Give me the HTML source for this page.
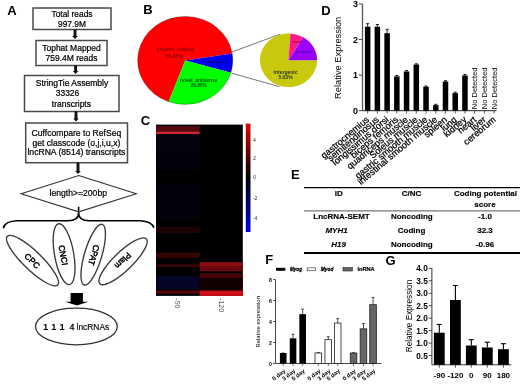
<!DOCTYPE html>
<html><head><meta charset="utf-8"><style>
html,body{margin:0;padding:0;background:#fff;width:520px;height:385px;overflow:hidden}
svg{display:block;filter:blur(0.35px)}
text{font-family:"Liberation Sans",sans-serif}
</style></head><body>
<svg width="520" height="385" viewBox="0 0 520 385">
<text x="7.20" y="14.60" font-size="13" text-anchor="start" font-weight="bold" font-style="normal" fill="#000" >A</text>
<rect x="33" y="8" width="78" height="21.5" fill="#fff" stroke="#4a4a4a" stroke-width="1.5"/>
<text x="72.00" y="16.80" font-size="8.4" text-anchor="middle" font-weight="normal" font-style="normal" fill="#000" stroke="#000" stroke-width="0.22" >Total reads</text>
<text x="72.00" y="26.80" font-size="8.4" text-anchor="middle" font-weight="normal" font-style="normal" fill="#000" stroke="#000" stroke-width="0.22" >997.9M</text>
<line x1="75" y1="29.5" x2="75" y2="36.5" stroke="#111" stroke-width="2.9"/>
<polygon points="72.2,35.9 77.8,35.9 75,39.0" fill="#111"/>
<rect x="36" y="40.5" width="71" height="25" fill="#fff" stroke="#4a4a4a" stroke-width="1.5"/>
<text x="71.50" y="51.00" font-size="8.5" text-anchor="middle" font-weight="normal" font-style="normal" fill="#000" stroke="#000" stroke-width="0.22" >Tophat Mapped</text>
<text x="71.50" y="61.30" font-size="8.5" text-anchor="middle" font-weight="normal" font-style="normal" fill="#000" stroke="#000" stroke-width="0.22" >759.4M reads</text>
<line x1="75.6" y1="65.6" x2="75.6" y2="71.5" stroke="#111" stroke-width="2.9"/>
<polygon points="72.8,70.9 78.39999999999999,70.9 75.6,74.0" fill="#111"/>
<rect x="24.5" y="75.5" width="94.5" height="36" fill="#fff" stroke="#4a4a4a" stroke-width="1.5"/>
<text x="72.00" y="86.00" font-size="8.5" text-anchor="middle" font-weight="normal" font-style="normal" fill="#000" stroke="#000" stroke-width="0.22" >StringTie Assembly</text>
<text x="55.70" y="96.40" font-size="8.5" text-anchor="start" font-weight="normal" font-style="normal" fill="#000" stroke="#000" stroke-width="0.22" >33326</text>
<text x="71.40" y="106.70" font-size="8.5" text-anchor="middle" font-weight="normal" font-style="normal" fill="#000" stroke="#000" stroke-width="0.22" >transcripts</text>
<line x1="76" y1="111.3" x2="76" y2="119" stroke="#111" stroke-width="2.9"/>
<polygon points="73.2,118.4 78.8,118.4 76,121.5" fill="#111"/>
<rect x="25.7" y="123" width="101.8" height="39.7" fill="#fff" stroke="#4a4a4a" stroke-width="1.5"/>
<text x="76.40" y="136.30" font-size="8.6" text-anchor="middle" font-weight="normal" font-style="normal" fill="#000" stroke="#000" stroke-width="0.22" >Cuffcompare to RefSeq</text>
<text x="76.40" y="145.80" font-size="8.6" text-anchor="middle" font-weight="normal" font-style="normal" fill="#000" stroke="#000" stroke-width="0.22" >get classcode (o,j,i,u,x)</text>
<text x="76.40" y="155.30" font-size="8.6" text-anchor="middle" font-weight="normal" font-style="normal" fill="#000" stroke="#000" stroke-width="0.22" >lncRNA (8514) transcripts</text>
<line x1="78" y1="162.7" x2="78" y2="171.5" stroke="#111" stroke-width="2.9"/>
<polygon points="75.2,170.9 80.8,170.9 78,174.0" fill="#111"/>
<polygon points="78.7,175.5 136.3,193.8 78.7,211.8 21.2,193.8" fill="none" stroke="#333" stroke-width="1.1"/>
<text x="78.30" y="196.20" font-size="8.6" text-anchor="middle" font-weight="normal" font-style="normal" fill="#000" stroke="#000" stroke-width="0.22" >length&gt;=200bp</text>
<path d="M3.2,228.2 Q5,221 17,220.7 L68,220.7 Q78.6,220.7 78.6,213 L78.6,206.8 M78.6,213 Q78.6,220.7 89,220.7 L140.5,220.7 Q152,221.5 153.9,227.7" fill="none" stroke="#000" stroke-width="1.6"/>
<ellipse cx="32.5" cy="260.6" rx="35" ry="9.3" transform="rotate(44 32.5 260.6)" fill="#fff" stroke="#3a3a3a" stroke-width="1.35"/>
<ellipse cx="64.1" cy="254.2" rx="9.6" ry="30.9" transform="rotate(-10.2 64.1 254.2)" fill="#fff" stroke="#3a3a3a" stroke-width="1.35"/>
<ellipse cx="93.2" cy="254.7" rx="8.7" ry="31.6" transform="rotate(16.5 93.2 254.7)" fill="#fff" stroke="#3a3a3a" stroke-width="1.35"/>
<ellipse cx="123.1" cy="261.3" rx="32.3" ry="9.3" transform="rotate(-44 123.1 261.3)" fill="#fff" stroke="#3a3a3a" stroke-width="1.35"/>
<text x="0" y="0" font-size="8.4" text-anchor="middle" dominant-baseline="central" font-weight="normal" stroke="#000" stroke-width="0.45" transform="translate(32.3 260.8) rotate(44)">CPC</text>
<text x="0" y="0" font-size="8.4" text-anchor="middle" dominant-baseline="central" font-weight="normal" stroke="#000" stroke-width="0.45" transform="translate(63.3 255.2) rotate(80)">CNCI</text>
<text x="0" y="0" font-size="8.4" text-anchor="middle" dominant-baseline="central" font-weight="normal" stroke="#000" stroke-width="0.45" transform="translate(94 255.2) rotate(106.5)">CPAT</text>
<text x="0" y="0" font-size="8.4" text-anchor="middle" dominant-baseline="central" font-weight="normal" stroke="#000" stroke-width="0.45" transform="translate(123 260.6) rotate(136)">Plam</text>
<polygon points="70.6,293 82.9,293 82.9,301.8 88.3,301.8 77,305.5 65,301.8 70.6,301.8" fill="#000"/>
<ellipse cx="76.4" cy="326.5" rx="40.9" ry="18.3" fill="#fff" stroke="#333" stroke-width="1.3"/>
<text x="45.60" y="330.10" font-size="9.4" text-anchor="middle" font-weight="bold" font-style="normal" fill="#000" >1</text>
<text x="53.80" y="330.10" font-size="9.4" text-anchor="middle" font-weight="bold" font-style="normal" fill="#000" >1</text>
<text x="62.00" y="330.10" font-size="9.4" text-anchor="middle" font-weight="bold" font-style="normal" fill="#000" >1</text>
<text x="71.90" y="330.10" font-size="9" text-anchor="middle" font-weight="normal" font-style="normal" fill="#000" stroke="#000" stroke-width="0.3" >4</text>
<text x="76.60" y="330.10" font-size="8.4" text-anchor="start" font-weight="normal" font-style="normal" fill="#000" stroke="#000" stroke-width="0.15" >lncRNAs</text>
<text x="143.30" y="14.40" font-size="13" text-anchor="start" font-weight="bold" font-style="normal" fill="#000" >B</text>
<path d="M185.2,60.4 L168.69,101.67 A47.6,44 0 1 1 232.23,53.59 Z" fill="#ff0000"/>
<path d="M185.2,60.4 L232.23,53.59 A47.6,44 0 0 1 230.86,72.82 Z" fill="#0000ee"/>
<path d="M185.2,60.4 L230.86,72.82 A47.6,44 0 0 1 168.69,101.67 Z" fill="#00ff00"/>
<ellipse cx="185.2" cy="60.4" rx="47.6" ry="44" fill="none" stroke="#000" stroke-opacity="0.35" stroke-width="0.7"/>
<line x1="232.3" y1="51.9" x2="280.4" y2="34.1" stroke="#777" stroke-width="1"/>
<line x1="231.4" y1="73.1" x2="279.5" y2="86.7" stroke="#777" stroke-width="1"/>
<path d="M288.5,60.3 L317.10,60.30 A28.6,26.8 0 1 1 290.40,33.56 Z" fill="#c8c80c"/>
<path d="M288.5,60.3 L290.40,33.56 A28.6,26.8 0 0 1 303.23,37.33 Z" fill="#ff1a8c"/>
<path d="M288.5,60.3 L303.23,37.33 A28.6,26.8 0 0 1 317.10,60.30 Z" fill="#9a00ff"/>
<text x="175.30" y="51.20" font-size="5.2" text-anchor="middle" font-weight="bold" font-style="normal" fill="#800" >protein_coding</text>
<text x="174.30" y="58.00" font-size="5.2" text-anchor="middle" font-weight="bold" font-style="normal" fill="#800" >65.88%</text>
<text x="198.70" y="82.00" font-size="4.8" text-anchor="middle" font-weight="bold" font-style="normal" fill="#050" >novel_antisense</text>
<text x="198.70" y="87.30" font-size="4.8" text-anchor="middle" font-weight="bold" font-style="normal" fill="#050" >26.80%</text>
<text x="217.00" y="62.50" font-size="4" text-anchor="middle" font-weight="bold" font-style="normal" fill="#00005a" >intergenic</text>
<text x="285.50" y="73.50" font-size="5" text-anchor="middle" font-weight="bold" font-style="normal" fill="#333" >intergenic</text>
<text x="285.50" y="78.80" font-size="5" text-anchor="middle" font-weight="bold" font-style="normal" fill="#333" >5.63%</text>
<text x="297.00" y="43.00" font-size="3.5" text-anchor="middle" font-weight="bold" font-style="normal" fill="#900040" >sense</text>
<text x="304.00" y="53.00" font-size="3.5" text-anchor="middle" font-weight="bold" font-style="normal" fill="#500090" >antisense</text>
<text x="140.80" y="124.70" font-size="13" text-anchor="start" font-weight="bold" font-style="normal" fill="#000" >C</text>
<rect x="156" y="124.6" width="86.80000000000001" height="171.29999999999998" fill="#000"/>
<rect x="156" y="126.2" width="43.599999999999994" height="5.3999999999999915" fill="#560a0e"/>
<rect x="156" y="131.6" width="43.599999999999994" height="2.5" fill="#c82a34"/>
<rect x="156" y="134.1" width="43.599999999999994" height="15.900000000000006" fill="#04040f"/>
<rect x="156" y="150" width="43.599999999999994" height="20" fill="#02020a"/>
<rect x="156" y="185" width="43.599999999999994" height="35" fill="#02020b"/>
<rect x="156" y="226.8" width="43.599999999999994" height="6.199999999999989" fill="#1c0202"/>
<rect x="156" y="252.6" width="43.599999999999994" height="5.400000000000006" fill="#320404"/>
<rect x="156" y="264.3" width="43.599999999999994" height="2.6999999999999886" fill="#3a0404"/>
<rect x="156" y="276" width="43.599999999999994" height="13" fill="#05052a"/>
<rect x="156" y="290.5" width="43.599999999999994" height="3.1000000000000227" fill="#5a0608"/>
<rect x="199.6" y="262.2" width="43.20000000000002" height="3.8000000000000114" fill="#8c0c10"/>
<rect x="199.6" y="266" width="43.20000000000002" height="5.199999999999989" fill="#6a080c"/>
<rect x="199.6" y="273.2" width="43.20000000000002" height="4.800000000000011" fill="#440606"/>
<rect x="199.6" y="278" width="43.20000000000002" height="12.5" fill="#120000"/>
<rect x="199.6" y="290.5" width="43.20000000000002" height="5.399999999999977" fill="#cc0c16"/>
<defs><linearGradient id="cb" x1="0" y1="0" x2="0" y2="1"><stop offset="0" stop-color="#e60000"/><stop offset="0.5" stop-color="#000"/><stop offset="1" stop-color="#0000e6"/></linearGradient></defs>
<rect x="245.8" y="123.6" width="4.7" height="108.4" fill="url(#cb)"/>
<text x="253.20" y="141.50" font-size="4.6" text-anchor="start" font-weight="normal" font-style="normal" fill="#222" >4</text>
<text x="253.20" y="160.20" font-size="4.6" text-anchor="start" font-weight="normal" font-style="normal" fill="#222" >2</text>
<text x="253.20" y="179.00" font-size="4.6" text-anchor="start" font-weight="normal" font-style="normal" fill="#222" >0</text>
<text x="253.20" y="200.20" font-size="4.6" text-anchor="start" font-weight="normal" font-style="normal" fill="#222" >-2</text>
<text x="253.20" y="220.20" font-size="4.6" text-anchor="start" font-weight="normal" font-style="normal" fill="#222" >-4</text>
<text x="0.00" y="0.00" font-size="7" text-anchor="middle" font-weight="normal" font-style="normal" fill="#555" transform="translate(177.8 303.4) rotate(90)" dominant-baseline="central">-90</text>
<text x="0.00" y="0.00" font-size="7" text-anchor="middle" font-weight="normal" font-style="normal" fill="#555" transform="translate(221.5 305.1) rotate(90)" dominant-baseline="central">-120</text>
<text x="321.30" y="14.80" font-size="13" text-anchor="start" font-weight="bold" font-style="normal" fill="#000" >D</text>
<line x1="362.5" y1="4.0" x2="362.5" y2="110.7" stroke="#555" stroke-width="1.3"/>
<line x1="362.5" y1="110.7" x2="496.5" y2="110.7" stroke="#222" stroke-width="1"/>
<line x1="358.7" y1="110.70" x2="362.5" y2="110.70" stroke="#444" stroke-width="1"/>
<text x="357.90" y="113.90" font-size="8.9" text-anchor="end" font-weight="bold" font-style="normal" fill="#000" >0</text>
<line x1="358.7" y1="75.13" x2="362.5" y2="75.13" stroke="#444" stroke-width="1"/>
<text x="357.90" y="78.33" font-size="8.9" text-anchor="end" font-weight="bold" font-style="normal" fill="#000" >1</text>
<line x1="358.7" y1="39.56" x2="362.5" y2="39.56" stroke="#444" stroke-width="1"/>
<text x="357.90" y="42.76" font-size="8.9" text-anchor="end" font-weight="bold" font-style="normal" fill="#000" >2</text>
<line x1="358.7" y1="3.99" x2="362.5" y2="3.99" stroke="#444" stroke-width="1"/>
<text x="357.90" y="7.19" font-size="8.9" text-anchor="end" font-weight="bold" font-style="normal" fill="#000" >3</text>
<line x1="367.65" y1="110.7" x2="367.65" y2="113.5" stroke="#333" stroke-width="0.8"/>
<rect x="364.90" y="26.7" width="5.5" height="84.00" fill="#000"/>
<line x1="367.65" y1="23.7" x2="367.65" y2="26.7" stroke="#000" stroke-width="0.9"/>
<line x1="366.15" y1="23.7" x2="369.15" y2="23.7" stroke="#000" stroke-width="0.9"/>
<line x1="377.38" y1="110.7" x2="377.38" y2="113.5" stroke="#333" stroke-width="0.8"/>
<rect x="374.63" y="26.7" width="5.5" height="84.00" fill="#000"/>
<line x1="377.38" y1="24.5" x2="377.38" y2="26.7" stroke="#000" stroke-width="0.9"/>
<line x1="375.88" y1="24.5" x2="378.88" y2="24.5" stroke="#000" stroke-width="0.9"/>
<line x1="387.11" y1="110.7" x2="387.11" y2="113.5" stroke="#333" stroke-width="0.8"/>
<rect x="384.36" y="33.2" width="5.5" height="77.50" fill="#000"/>
<line x1="387.11" y1="29.3" x2="387.11" y2="33.2" stroke="#000" stroke-width="0.9"/>
<line x1="385.61" y1="29.3" x2="388.61" y2="29.3" stroke="#000" stroke-width="0.9"/>
<line x1="396.84" y1="110.7" x2="396.84" y2="113.5" stroke="#333" stroke-width="0.8"/>
<rect x="394.09" y="76.4" width="5.5" height="34.30" fill="#000"/>
<line x1="396.84" y1="75.5" x2="396.84" y2="76.4" stroke="#000" stroke-width="0.9"/>
<line x1="395.34" y1="75.5" x2="398.34" y2="75.5" stroke="#000" stroke-width="0.9"/>
<line x1="406.57" y1="110.7" x2="406.57" y2="113.5" stroke="#333" stroke-width="0.8"/>
<rect x="403.82" y="71.5" width="5.5" height="39.20" fill="#000"/>
<line x1="406.57" y1="70.6" x2="406.57" y2="71.5" stroke="#000" stroke-width="0.9"/>
<line x1="405.07" y1="70.6" x2="408.07" y2="70.6" stroke="#000" stroke-width="0.9"/>
<line x1="416.30" y1="110.7" x2="416.30" y2="113.5" stroke="#333" stroke-width="0.8"/>
<rect x="413.55" y="64.5" width="5.5" height="46.20" fill="#000"/>
<line x1="416.30" y1="63.8" x2="416.30" y2="64.5" stroke="#000" stroke-width="0.9"/>
<line x1="414.80" y1="63.8" x2="417.80" y2="63.8" stroke="#000" stroke-width="0.9"/>
<line x1="426.03" y1="110.7" x2="426.03" y2="113.5" stroke="#333" stroke-width="0.8"/>
<rect x="423.28" y="86.7" width="5.5" height="24.00" fill="#000"/>
<line x1="426.03" y1="86" x2="426.03" y2="86.7" stroke="#000" stroke-width="0.9"/>
<line x1="424.53" y1="86" x2="427.53" y2="86" stroke="#000" stroke-width="0.9"/>
<line x1="435.76" y1="110.7" x2="435.76" y2="113.5" stroke="#333" stroke-width="0.8"/>
<rect x="433.01" y="105.1" width="5.5" height="5.60" fill="#000"/>
<line x1="435.76" y1="104.3" x2="435.76" y2="105.1" stroke="#000" stroke-width="0.9"/>
<line x1="434.26" y1="104.3" x2="437.26" y2="104.3" stroke="#000" stroke-width="0.9"/>
<line x1="445.49" y1="110.7" x2="445.49" y2="113.5" stroke="#333" stroke-width="0.8"/>
<rect x="442.74" y="81.5" width="5.5" height="29.20" fill="#000"/>
<line x1="445.49" y1="80.7" x2="445.49" y2="81.5" stroke="#000" stroke-width="0.9"/>
<line x1="443.99" y1="80.7" x2="446.99" y2="80.7" stroke="#000" stroke-width="0.9"/>
<line x1="455.22" y1="110.7" x2="455.22" y2="113.5" stroke="#333" stroke-width="0.8"/>
<rect x="452.47" y="93.1" width="5.5" height="17.60" fill="#000"/>
<line x1="455.22" y1="92.2" x2="455.22" y2="93.1" stroke="#000" stroke-width="0.9"/>
<line x1="453.72" y1="92.2" x2="456.72" y2="92.2" stroke="#000" stroke-width="0.9"/>
<line x1="464.95" y1="110.7" x2="464.95" y2="113.5" stroke="#333" stroke-width="0.8"/>
<rect x="462.20" y="75.5" width="5.5" height="35.20" fill="#000"/>
<line x1="464.95" y1="74.5" x2="464.95" y2="75.5" stroke="#000" stroke-width="0.9"/>
<line x1="463.45" y1="74.5" x2="466.45" y2="74.5" stroke="#000" stroke-width="0.9"/>
<line x1="474.68" y1="110.7" x2="474.68" y2="113.5" stroke="#333" stroke-width="0.8"/>
<text x="0.00" y="0.00" font-size="7.5" text-anchor="start" font-weight="normal" font-style="normal" fill="#000" transform="translate(477.30 109.2) rotate(-90)">No Detected</text>
<line x1="484.41" y1="110.7" x2="484.41" y2="113.5" stroke="#333" stroke-width="0.8"/>
<text x="0.00" y="0.00" font-size="7.5" text-anchor="start" font-weight="normal" font-style="normal" fill="#000" transform="translate(487.03 109.2) rotate(-90)">No Detected</text>
<line x1="494.14" y1="110.7" x2="494.14" y2="113.5" stroke="#333" stroke-width="0.8"/>
<text x="0.00" y="0.00" font-size="7.5" text-anchor="start" font-weight="normal" font-style="normal" fill="#000" transform="translate(496.76 109.2) rotate(-90)">No Detected</text>
<text x="0.00" y="0.00" font-size="9.2" text-anchor="end" font-weight="normal" font-style="normal" fill="#000" stroke="#000" stroke-width="0.25" transform="translate(369.85 120.6) rotate(-40)">gastrocnemius</text>
<text x="0.00" y="0.00" font-size="9.2" text-anchor="end" font-weight="normal" font-style="normal" fill="#000" stroke="#000" stroke-width="0.25" transform="translate(379.58 120.6) rotate(-40)">semitendinosus</text>
<text x="0.00" y="0.00" font-size="9.2" text-anchor="end" font-weight="normal" font-style="normal" fill="#000" stroke="#000" stroke-width="0.25" transform="translate(389.31 120.6) rotate(-40)">longissimus dorsi</text>
<text x="0.00" y="0.00" font-size="9.2" text-anchor="end" font-weight="normal" font-style="normal" fill="#000" stroke="#000" stroke-width="0.25" transform="translate(399.04 120.6) rotate(-40)">biceps femoris</text>
<text x="0.00" y="0.00" font-size="9.2" text-anchor="end" font-weight="normal" font-style="normal" fill="#000" stroke="#000" stroke-width="0.25" transform="translate(408.77 120.6) rotate(-40)">quadriceps muscle</text>
<text x="0.00" y="0.00" font-size="9.2" text-anchor="end" font-weight="normal" font-style="normal" fill="#000" stroke="#000" stroke-width="0.25" transform="translate(418.50 120.6) rotate(-40)">Soleus muscle</text>
<text x="0.00" y="0.00" font-size="9.2" text-anchor="end" font-weight="normal" font-style="normal" fill="#000" stroke="#000" stroke-width="0.25" transform="translate(428.23 120.6) rotate(-40)">gastric smooth muscle</text>
<text x="0.00" y="0.00" font-size="9.2" text-anchor="end" font-weight="normal" font-style="normal" fill="#000" stroke="#000" stroke-width="0.25" transform="translate(437.96 120.6) rotate(-40)">intestinal smooth muscle</text>
<text x="0.00" y="0.00" font-size="9.2" text-anchor="end" font-weight="normal" font-style="normal" fill="#000" stroke="#000" stroke-width="0.25" transform="translate(447.69 120.6) rotate(-40)">spleen</text>
<text x="0.00" y="0.00" font-size="9.2" text-anchor="end" font-weight="normal" font-style="normal" fill="#000" stroke="#000" stroke-width="0.25" transform="translate(457.42 120.6) rotate(-40)">lung</text>
<text x="0.00" y="0.00" font-size="9.2" text-anchor="end" font-weight="normal" font-style="normal" fill="#000" stroke="#000" stroke-width="0.25" transform="translate(467.15 120.6) rotate(-40)">kidney</text>
<text x="0.00" y="0.00" font-size="9.2" text-anchor="end" font-weight="normal" font-style="normal" fill="#000" stroke="#000" stroke-width="0.25" transform="translate(476.88 120.6) rotate(-40)">heart</text>
<text x="0.00" y="0.00" font-size="9.2" text-anchor="end" font-weight="normal" font-style="normal" fill="#000" stroke="#000" stroke-width="0.25" transform="translate(486.61 120.6) rotate(-40)">liver</text>
<text x="0.00" y="0.00" font-size="9.2" text-anchor="end" font-weight="normal" font-style="normal" fill="#000" stroke="#000" stroke-width="0.25" transform="translate(496.34 120.6) rotate(-40)">cerebrum</text>
<text x="0.00" y="0.00" font-size="9.3" text-anchor="middle" font-weight="normal" font-style="normal" fill="#000" transform="translate(341.3 57.8) rotate(-90)">Relative Expression</text>
<text x="291.00" y="178.80" font-size="13" text-anchor="start" font-weight="bold" font-style="normal" fill="#000" >E</text>
<line x1="304" y1="187.6" x2="520" y2="187.6" stroke="#000" stroke-width="1.3"/>
<line x1="304" y1="210.9" x2="520" y2="210.9" stroke="#777" stroke-width="1.2"/>
<line x1="304" y1="253" x2="520" y2="253" stroke="#000" stroke-width="1.8"/>
<text x="338.80" y="196.40" font-size="8.0" text-anchor="middle" font-weight="bold" font-style="normal" fill="#000" stroke="#000" stroke-width="0.15" >ID</text>
<text x="411.50" y="196.40" font-size="8.0" text-anchor="middle" font-weight="bold" font-style="normal" fill="#000" stroke="#000" stroke-width="0.15" >C/NC</text>
<text x="485.50" y="196.40" font-size="8.0" text-anchor="middle" font-weight="bold" font-style="normal" fill="#000" stroke="#000" stroke-width="0.15" >Coding potential</text>
<text x="485.00" y="207.30" font-size="8.0" text-anchor="middle" font-weight="bold" font-style="normal" fill="#000" stroke="#000" stroke-width="0.15" >score</text>
<text x="341.50" y="219.40" font-size="8.0" text-anchor="middle" font-weight="bold" font-style="normal" fill="#000" stroke="#000" stroke-width="0.15" >LncRNA-SEMT</text>
<text x="336.50" y="233.00" font-size="8.0" text-anchor="middle" font-weight="bold" font-style="italic" fill="#000" stroke="#000" stroke-width="0.15" >MYH1</text>
<text x="338.50" y="247.00" font-size="8.0" text-anchor="middle" font-weight="bold" font-style="italic" fill="#000" stroke="#000" stroke-width="0.15" >H19</text>
<text x="411.80" y="219.40" font-size="8.0" text-anchor="middle" font-weight="bold" font-style="normal" fill="#000" stroke="#000" stroke-width="0.15" >Noncoding</text>
<text x="411.50" y="232.90" font-size="8.0" text-anchor="middle" font-weight="bold" font-style="normal" fill="#000" stroke="#000" stroke-width="0.15" >Coding</text>
<text x="411.80" y="247.20" font-size="8.0" text-anchor="middle" font-weight="bold" font-style="normal" fill="#000" stroke="#000" stroke-width="0.15" >Noncoding</text>
<text x="485.00" y="219.40" font-size="8.0" text-anchor="middle" font-weight="bold" font-style="normal" fill="#000" stroke="#000" stroke-width="0.15" >-1.0</text>
<text x="485.00" y="232.90" font-size="8.0" text-anchor="middle" font-weight="bold" font-style="normal" fill="#000" stroke="#000" stroke-width="0.15" >32.3</text>
<text x="485.00" y="247.20" font-size="8.0" text-anchor="middle" font-weight="bold" font-style="normal" fill="#000" stroke="#000" stroke-width="0.15" >-0.96</text>
<text x="265.30" y="263.80" font-size="13" text-anchor="start" font-weight="bold" font-style="normal" fill="#000" >F</text>
<rect x="276.1" y="267.8" width="9.2" height="3" fill="#000"/>
<text x="290.10" y="271.30" font-size="5.8" text-anchor="start" font-weight="bold" font-style="italic" fill="#000" stroke="#000" stroke-width="0.3" textLength="11.8" lengthAdjust="spacingAndGlyphs">Myog</text>
<rect x="307.2" y="267.9" width="8.2" height="2.8" fill="#fff" stroke="#444" stroke-width="0.7"/>
<text x="320.80" y="271.30" font-size="5.8" text-anchor="start" font-weight="bold" font-style="italic" fill="#000" stroke="#000" stroke-width="0.3" textLength="12.6" lengthAdjust="spacingAndGlyphs">Myod</text>
<rect x="343" y="267.6" width="9.5" height="3.4" fill="#666" stroke="#222" stroke-width="0.6"/>
<text x="357.40" y="271.30" font-size="5.8" text-anchor="start" font-weight="bold" font-style="normal" fill="#000" stroke="#000" stroke-width="0.2" textLength="17.2" lengthAdjust="spacingAndGlyphs">lnRNA</text>
<line x1="275.5" y1="279.5" x2="275.5" y2="363.5" stroke="#333" stroke-width="0.9"/>
<line x1="275.5" y1="363.5" x2="381.3" y2="363.5" stroke="#333" stroke-width="0.9"/>
<line x1="273" y1="363.50" x2="275.5" y2="363.50" stroke="#333" stroke-width="0.8"/>
<text x="271.80" y="365.50" font-size="5.2" text-anchor="end" font-weight="bold" font-style="normal" fill="#000" >0</text>
<line x1="273" y1="342.50" x2="275.5" y2="342.50" stroke="#333" stroke-width="0.8"/>
<text x="271.80" y="344.50" font-size="5.2" text-anchor="end" font-weight="bold" font-style="normal" fill="#000" >2</text>
<line x1="273" y1="321.50" x2="275.5" y2="321.50" stroke="#333" stroke-width="0.8"/>
<text x="271.80" y="323.50" font-size="5.2" text-anchor="end" font-weight="bold" font-style="normal" fill="#000" >4</text>
<line x1="273" y1="300.50" x2="275.5" y2="300.50" stroke="#333" stroke-width="0.8"/>
<text x="271.80" y="302.50" font-size="5.2" text-anchor="end" font-weight="bold" font-style="normal" fill="#000" >6</text>
<line x1="273" y1="279.50" x2="275.5" y2="279.50" stroke="#333" stroke-width="0.8"/>
<text x="271.80" y="281.50" font-size="5.2" text-anchor="end" font-weight="bold" font-style="normal" fill="#000" >8</text>
<text x="0.00" y="0.00" font-size="5.9" text-anchor="middle" font-weight="normal" font-style="normal" fill="#000" transform="translate(259.5 321.8) rotate(-90)">Relative expression</text>
<line x1="283.20" y1="363.5" x2="283.20" y2="366.0" stroke="#333" stroke-width="0.7"/>
<line x1="283.20" y1="353.00" x2="283.20" y2="353.00" stroke="#222" stroke-width="0.8"/>
<line x1="281.70" y1="353.00" x2="284.70" y2="353.00" stroke="#222" stroke-width="0.8"/>
<rect x="279.90" y="353.00" width="6.6" height="10.50" fill="#000" stroke="#222" stroke-width="0"/>
<line x1="293.05" y1="363.5" x2="293.05" y2="366.0" stroke="#333" stroke-width="0.7"/>
<line x1="293.05" y1="334.31" x2="293.05" y2="338.30" stroke="#222" stroke-width="0.8"/>
<line x1="291.55" y1="334.31" x2="294.55" y2="334.31" stroke="#222" stroke-width="0.8"/>
<rect x="289.75" y="338.30" width="6.6" height="25.20" fill="#000" stroke="#222" stroke-width="0"/>
<line x1="302.65" y1="363.5" x2="302.65" y2="366.0" stroke="#333" stroke-width="0.7"/>
<line x1="302.65" y1="309.11" x2="302.65" y2="314.15" stroke="#222" stroke-width="0.8"/>
<line x1="301.15" y1="309.11" x2="304.15" y2="309.11" stroke="#222" stroke-width="0.8"/>
<rect x="299.35" y="314.15" width="6.6" height="49.35" fill="#000" stroke="#222" stroke-width="0"/>
<line x1="318.30" y1="363.5" x2="318.30" y2="366.0" stroke="#333" stroke-width="0.7"/>
<line x1="318.30" y1="352.48" x2="318.30" y2="353.00" stroke="#222" stroke-width="0.8"/>
<line x1="316.80" y1="352.48" x2="319.80" y2="352.48" stroke="#222" stroke-width="0.8"/>
<rect x="315.00" y="353.00" width="6.6" height="10.50" fill="#fff" stroke="#222" stroke-width="0.8"/>
<line x1="328.25" y1="363.5" x2="328.25" y2="366.0" stroke="#333" stroke-width="0.7"/>
<line x1="328.25" y1="336.73" x2="328.25" y2="339.67" stroke="#222" stroke-width="0.8"/>
<line x1="326.75" y1="336.73" x2="329.75" y2="336.73" stroke="#222" stroke-width="0.8"/>
<rect x="324.95" y="339.67" width="6.6" height="23.83" fill="#fff" stroke="#222" stroke-width="0.8"/>
<line x1="337.70" y1="363.5" x2="337.70" y2="366.0" stroke="#333" stroke-width="0.7"/>
<line x1="337.70" y1="318.67" x2="337.70" y2="323.07" stroke="#222" stroke-width="0.8"/>
<line x1="336.20" y1="318.67" x2="339.20" y2="318.67" stroke="#222" stroke-width="0.8"/>
<rect x="334.40" y="323.07" width="6.6" height="40.43" fill="#fff" stroke="#222" stroke-width="0.8"/>
<line x1="353.55" y1="363.5" x2="353.55" y2="366.0" stroke="#333" stroke-width="0.7"/>
<line x1="353.55" y1="352.79" x2="353.55" y2="353.00" stroke="#222" stroke-width="0.8"/>
<line x1="352.05" y1="352.79" x2="355.05" y2="352.79" stroke="#222" stroke-width="0.8"/>
<rect x="350.25" y="353.00" width="6.6" height="10.50" fill="#666" stroke="#222" stroke-width="0.8"/>
<line x1="363.45" y1="363.5" x2="363.45" y2="366.0" stroke="#333" stroke-width="0.7"/>
<line x1="363.45" y1="323.70" x2="363.45" y2="328.85" stroke="#222" stroke-width="0.8"/>
<line x1="361.95" y1="323.70" x2="364.95" y2="323.70" stroke="#222" stroke-width="0.8"/>
<rect x="360.15" y="328.85" width="6.6" height="34.65" fill="#666" stroke="#222" stroke-width="0.8"/>
<line x1="373.05" y1="363.5" x2="373.05" y2="366.0" stroke="#333" stroke-width="0.7"/>
<line x1="373.05" y1="297.35" x2="373.05" y2="304.70" stroke="#222" stroke-width="0.8"/>
<line x1="371.55" y1="297.35" x2="374.55" y2="297.35" stroke="#222" stroke-width="0.8"/>
<rect x="369.75" y="304.70" width="6.6" height="58.80" fill="#666" stroke="#222" stroke-width="0.8"/>
<text x="0.00" y="0.00" font-size="5.9" text-anchor="end" font-weight="bold" font-style="normal" fill="#000" transform="translate(286.00 371.8) rotate(-38)">0 day</text>
<text x="0.00" y="0.00" font-size="5.9" text-anchor="end" font-weight="bold" font-style="normal" fill="#000" transform="translate(295.85 371.8) rotate(-38)">3 day</text>
<text x="0.00" y="0.00" font-size="5.9" text-anchor="end" font-weight="bold" font-style="normal" fill="#000" transform="translate(305.45 371.8) rotate(-38)">5 day</text>
<text x="0.00" y="0.00" font-size="5.9" text-anchor="end" font-weight="bold" font-style="normal" fill="#000" transform="translate(321.10 371.8) rotate(-38)">0 day</text>
<text x="0.00" y="0.00" font-size="5.9" text-anchor="end" font-weight="bold" font-style="normal" fill="#000" transform="translate(331.05 371.8) rotate(-38)">3 day</text>
<text x="0.00" y="0.00" font-size="5.9" text-anchor="end" font-weight="bold" font-style="normal" fill="#000" transform="translate(340.50 371.8) rotate(-38)">5 day</text>
<text x="0.00" y="0.00" font-size="5.9" text-anchor="end" font-weight="bold" font-style="normal" fill="#000" transform="translate(356.35 371.8) rotate(-38)">0 day</text>
<text x="0.00" y="0.00" font-size="5.9" text-anchor="end" font-weight="bold" font-style="normal" fill="#000" transform="translate(366.25 371.8) rotate(-38)">3 day</text>
<text x="0.00" y="0.00" font-size="5.9" text-anchor="end" font-weight="bold" font-style="normal" fill="#000" transform="translate(375.85 371.8) rotate(-38)">5 day</text>
<text x="385.50" y="264.50" font-size="13" text-anchor="start" font-weight="bold" font-style="normal" fill="#000" >G</text>
<line x1="431.9" y1="268.2" x2="431.9" y2="364.8" stroke="#333" stroke-width="1"/>
<line x1="431.9" y1="364.8" x2="511.3" y2="364.8" stroke="#333" stroke-width="1"/>
<line x1="428.7" y1="355.50" x2="431.9" y2="355.50" stroke="#333" stroke-width="0.9"/>
<text x="427.80" y="358.50" font-size="8.3" text-anchor="end" font-weight="bold" font-style="normal" fill="#000" >0.5</text>
<line x1="428.7" y1="343.05" x2="431.9" y2="343.05" stroke="#333" stroke-width="0.9"/>
<text x="427.80" y="346.05" font-size="8.3" text-anchor="end" font-weight="bold" font-style="normal" fill="#000" >1.0</text>
<line x1="428.7" y1="330.60" x2="431.9" y2="330.60" stroke="#333" stroke-width="0.9"/>
<text x="427.80" y="333.60" font-size="8.3" text-anchor="end" font-weight="bold" font-style="normal" fill="#000" >1.5</text>
<line x1="428.7" y1="318.15" x2="431.9" y2="318.15" stroke="#333" stroke-width="0.9"/>
<text x="427.80" y="321.15" font-size="8.3" text-anchor="end" font-weight="bold" font-style="normal" fill="#000" >2.0</text>
<line x1="428.7" y1="305.70" x2="431.9" y2="305.70" stroke="#333" stroke-width="0.9"/>
<text x="427.80" y="308.70" font-size="8.3" text-anchor="end" font-weight="bold" font-style="normal" fill="#000" >2.5</text>
<line x1="428.7" y1="293.25" x2="431.9" y2="293.25" stroke="#333" stroke-width="0.9"/>
<text x="427.80" y="296.25" font-size="8.3" text-anchor="end" font-weight="bold" font-style="normal" fill="#000" >3.0</text>
<line x1="428.7" y1="280.80" x2="431.9" y2="280.80" stroke="#333" stroke-width="0.9"/>
<text x="427.80" y="283.80" font-size="8.3" text-anchor="end" font-weight="bold" font-style="normal" fill="#000" >3.5</text>
<line x1="428.7" y1="268.35" x2="431.9" y2="268.35" stroke="#333" stroke-width="0.9"/>
<text x="427.80" y="271.35" font-size="8.3" text-anchor="end" font-weight="bold" font-style="normal" fill="#000" >4.0</text>
<text x="0.00" y="0.00" font-size="8.2" text-anchor="middle" font-weight="normal" font-style="normal" fill="#000" transform="translate(412 316) rotate(-90)">Relative Expression</text>
<line x1="439.30" y1="364.8" x2="439.30" y2="367.6" stroke="#333" stroke-width="0.9"/>
<line x1="439.30" y1="324.50" x2="439.30" y2="332.70" stroke="#000" stroke-width="1.1"/>
<line x1="436.80" y1="324.50" x2="441.80" y2="324.50" stroke="#000" stroke-width="1.1"/>
<rect x="433.90" y="332.70" width="10.8" height="32.10" fill="#000"/>
<text x="439.30" y="378.00" font-size="8" text-anchor="middle" font-weight="bold" font-style="normal" fill="#000" >-90</text>
<line x1="455.40" y1="364.8" x2="455.40" y2="367.6" stroke="#333" stroke-width="0.9"/>
<line x1="455.40" y1="285.50" x2="455.40" y2="300.00" stroke="#000" stroke-width="1.1"/>
<line x1="452.90" y1="285.50" x2="457.90" y2="285.50" stroke="#000" stroke-width="1.1"/>
<rect x="450.00" y="300.00" width="10.8" height="64.80" fill="#000"/>
<text x="455.40" y="378.00" font-size="8" text-anchor="middle" font-weight="bold" font-style="normal" fill="#000" >-120</text>
<line x1="471.30" y1="364.8" x2="471.30" y2="367.6" stroke="#333" stroke-width="0.9"/>
<line x1="471.30" y1="339.70" x2="471.30" y2="345.50" stroke="#000" stroke-width="1.1"/>
<line x1="468.80" y1="339.70" x2="473.80" y2="339.70" stroke="#000" stroke-width="1.1"/>
<rect x="465.90" y="345.50" width="10.8" height="19.30" fill="#000"/>
<text x="471.30" y="378.00" font-size="8" text-anchor="middle" font-weight="bold" font-style="normal" fill="#000" >0</text>
<line x1="487.30" y1="364.8" x2="487.30" y2="367.6" stroke="#333" stroke-width="0.9"/>
<line x1="487.30" y1="342.20" x2="487.30" y2="347.50" stroke="#000" stroke-width="1.1"/>
<line x1="484.80" y1="342.20" x2="489.80" y2="342.20" stroke="#000" stroke-width="1.1"/>
<rect x="481.90" y="347.50" width="10.8" height="17.30" fill="#000"/>
<text x="487.30" y="378.00" font-size="8" text-anchor="middle" font-weight="bold" font-style="normal" fill="#000" >90</text>
<line x1="503.40" y1="364.8" x2="503.40" y2="367.6" stroke="#333" stroke-width="0.9"/>
<line x1="503.40" y1="343.70" x2="503.40" y2="349.20" stroke="#000" stroke-width="1.1"/>
<line x1="500.90" y1="343.70" x2="505.90" y2="343.70" stroke="#000" stroke-width="1.1"/>
<rect x="498.00" y="349.20" width="10.8" height="15.60" fill="#000"/>
<text x="503.40" y="378.00" font-size="8" text-anchor="middle" font-weight="bold" font-style="normal" fill="#000" >180</text>
</svg>
</body></html>
